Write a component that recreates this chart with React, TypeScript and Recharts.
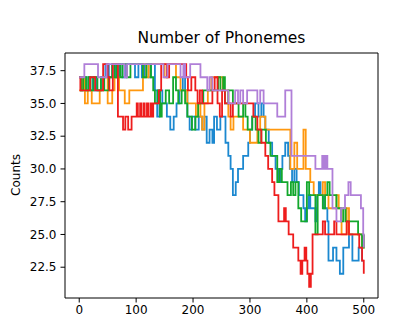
import React from 'react';
import { LineChart, Line, XAxis, YAxis, ReferenceLine } from 'recharts';

type Pt = [number, number];

const xTicks = [0, 100, 200, 300, 400, 500];
const yTicks = [22.5, 25, 27.5, 30, 32.5, 35, 37.5];

const blueSteps: Pt[] = [
  [0,37],[3,36],[6,37],[12,36],[16,37],[24,36],[28,37],[31,36],[40,37],[46,38],[52,37],[58,38],[64,37],[70,38],[76,37],[82,38],
  [98,37],[104,38],[110,37],[115,38],[122,37],[126,38],[133,36],[137,34],[141,36],[146,35],[154,34],[160,33],[166,34],[171,35],
  [176,36],[182,37],[186,36],[190,34],[194,33],[198,34],[204,33],[210,34],[216,33],[220,34],[224,32],[229,33],[234,32],[237,34],
  [242,33],[248,34],[257,32],[262,31],[266,30],[270,28],[275,29],[279,30],[283,30],[288,31],[297,32],[300,33],[304,34],[309,35],
  [315,34],[320,35],[324,34],[327,33],[333,32],[339,31],[345,30],[350,29],[353,30],[357,31],[362,32],[367,31],[370,30],[374,29],
  [378,30],[382,29],[386,28],[394,27],[397,26],[400,27],[403,28],[406,27],[415,26],[418,28],[421,29],[424,28],[430,27],[436,26],
  [438,23],[446,24],[452,23],[458,22],[464,24],[474,25],[480,23],[491,24],[497,23],[500,23],
];

const orangeSteps: Pt[] = [
  [0,36],[5,37],[10,35],[15,36],[22,35],[36,36],[42,37],[50,35],[58,36],[62,37],[70,36],[80,35],[88,36],[112,38],[118,37],[122,38],
  [150,37],[155,38],[170,37],[178,36],[190,35],[205,34],[209,35],[213,34],[216,33],[220,35],[226,36],[232,37],[252,36],[262,34],
  [266,33],[271,34],[288,33],[300,32],[313,33],[318,34],[327,33],[371,30],[378,32],[383,30],[394,33],[398,30],[406,29],[412,28],
  [428,29],[432,28],[438,27],[452,28],[456,27],[461,25],[470,27],[474,25],[497,24],[500,25],
];

const greenSteps: Pt[] = [
  [0,37],[3,36],[7,37],[12,36],[16,37],[20,36],[25,37],[32,36],[38,37],[44,36],[52,37],[58,38],[62,37],[66,38],[72,37],[76,38],
  [84,37],[90,38],[112,37],[118,38],[126,37],[130,36],[133,35],[138,36],[142,34],[145,35],[152,36],[158,35],[165,37],[170,36],
  [174,35],[180,36],[186,35],[190,34],[198,33],[204,34],[209,35],[218,36],[244,37],[248,36],[253,37],[256,35],[262,36],[270,35],
  [280,34],[288,35],[292,34],[296,33],[304,34],[310,33],[315,32],[320,33],[328,32],[336,31],[348,29],[352,30],[356,29],[366,28],
  [372,29],[376,28],[380,29],[385,27],[390,26],[400,29],[404,28],[415,25],[419,28],[428,27],[432,28],[436,29],[440,28],[452,27],
  [460,26],[464,27],[468,26],[490,25],[497,24],[500,25],
];

const redSteps: Pt[] = [
  [0,37],[2,36],[19,37],[28,36],[42,38],[50,37],[53,36],[59,38],[68,34],[77,33],[81,34],[86,33],[92,34],[101,35],[103,34],[107,35],
  [109,34],[113,35],[115,34],[119,35],[121,34],[125,35],[127,34],[130,35],[140,36],[144,38],[154,37],[158,38],[186,38],[188,37],
  [191,36],[197,37],[204,36],[208,35],[212,36],[216,35],[234,36],[238,37],[243,35],[247,34],[251,36],[256,35],[266,34],[270,35],
  [306,34],[313,33],[320,32],[327,31],[332,30],[339,29],[343,28],[350,26],[360,27],[363,26],[368,25],[376,24],[385,23],[389,22],
  [392,23],[396,24],[399,23],[401,22],[404,21],[407,22],[410,25],[428,26],[432,25],[448,26],[452,25],[470,26],[474,25],[492,24],
  [497,23],[500,22],
];

const purpleSteps: Pt[] = [
  [0,37],[9,38],[33,37],[48,38],[80,37],[84,38],[148,37],[155,38],[178,37],[183,38],[186,37],[195,38],[213,37],[225,36],[229,37],
  [234,36],[262,35],[274,36],[279,35],[283,36],[288,35],[295,36],[313,35],[318,36],[324,35],[348,34],[362,36],[373,31],[415,30],
  [427,31],[430,30],[433,31],[436,30],[445,27],[452,26],[460,27],[467,28],[473,29],[477,28],[495,27],[499,25],[500,24],
];

const seriesList = [
  { key: 'blue', color: '#1b88d0', steps: blueSteps },
  { key: 'orange', color: '#ff980f', steps: orangeSteps },
  { key: 'green', color: '#13a82c', steps: greenSteps },
  { key: 'red', color: '#ee1d1d', steps: redSteps },
  { key: 'purple', color: '#b07fd8', steps: purpleSteps },
];

const toRows = (s: Pt[]) => s.map(([x, v]) => ({ x, v }));

const FONT = 'DejaVu Sans, sans-serif';

export default function App() {
  return (
    <div style={{ position: 'absolute', left: 0, top: 0, width: 400, height: 329, background: '#fff' }}>
      <div style={{ position: 'absolute', left: 65, width: 313, top: 29, textAlign: 'center', fontFamily: FONT, fontSize: 15.5, lineHeight: '18px', color: '#000', whiteSpace: 'nowrap' }}>
        Number of Phonemes
      </div>
      <div style={{ position: 'absolute', left: 16, top: 175, width: 0, height: 0 }}>
        <div style={{ position: 'absolute', left: 0, top: 0, transform: 'translate(-50%, -50%) rotate(-90deg)', fontFamily: FONT, fontSize: 12, lineHeight: '14px', color: '#000', whiteSpace: 'nowrap' }}>
          Counts
        </div>
      </div>
      <LineChart width={400} height={329} margin={{ top: 53, right: 22, bottom: 0, left: 0 }}>
        <XAxis
          dataKey="x"
          type="number"
          domain={[-25, 525]}
          ticks={xTicks}
          allowDataOverflow
          height={31}
          tickSize={4.5}
          tickMargin={3}
          stroke="#000"
          axisLine={{ stroke: '#000', strokeWidth: 1 }}
          tickLine={{ stroke: '#000' }}
          tick={{ fill: '#000', fontSize: 12, fontFamily: FONT }}
        />
        <YAxis
          type="number"
          domain={[20.15, 38.85]}
          ticks={yTicks}
          allowDataOverflow
          width={65}
          tickSize={4.5}
          tickMargin={4}
          stroke="#000"
          axisLine={{ stroke: '#000', strokeWidth: 1 }}
          tickLine={{ stroke: '#000' }}
          tick={{ fill: '#000', fontSize: 12, fontFamily: FONT }}
          tickFormatter={(v: number) => v.toFixed(1)}
        />
        <ReferenceLine y={38.85} stroke="#000" strokeWidth={1} ifOverflow="visible" />
        <ReferenceLine x={525} stroke="#000" strokeWidth={1} ifOverflow="visible" />
        {seriesList.map((s) => (
          <Line
            key={s.key}
            data={toRows(s.steps)}
            dataKey="v"
            type="stepAfter"
            stroke={s.color}
            strokeWidth={1.8}
            dot={false}
            activeDot={false}
            isAnimationActive={false}
          />
        ))}
      </LineChart>
    </div>
  );
}
